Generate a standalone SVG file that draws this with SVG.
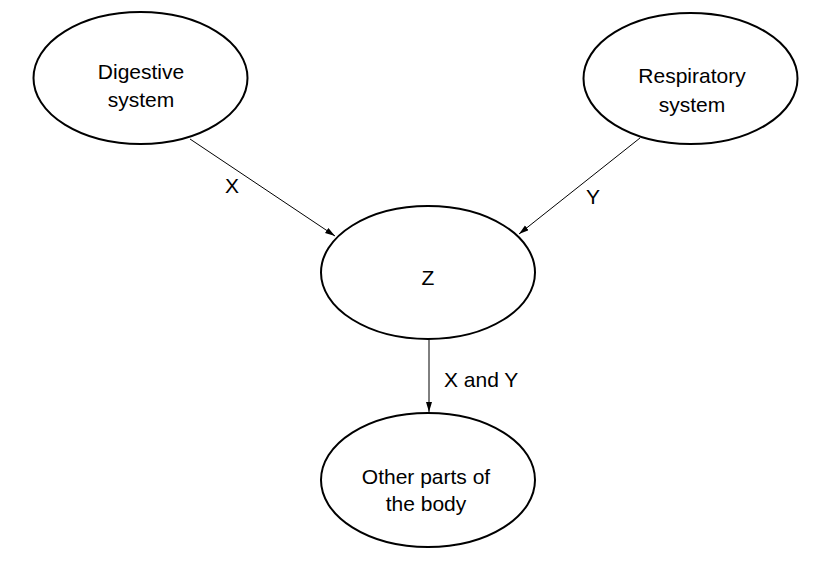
<svg xmlns="http://www.w3.org/2000/svg" width="817" height="576" viewBox="0 0 817 576">
  <style>
    .node ellipse { fill: #ffffff; stroke: #000000; stroke-width: 2; }
    .node text, .label { font-family: "Liberation Sans", Arial, sans-serif; font-size: 21px; fill: #000000; text-anchor: middle; }
    .edge { stroke: #000000; stroke-width: 1; fill: none; marker-end: url(#arrow); }
  </style>
  <defs>
    <marker id="arrow" markerUnits="userSpaceOnUse" markerWidth="11" markerHeight="7" refX="10" refY="3" orient="auto">
      <path d="M0,0 L10,3 L0,6 z" fill="#000000"/>
    </marker>
  </defs>
  <rect width="817" height="576" fill="#ffffff"/>
  <g id="connectors">
    <line class="edge" x1="190" y1="139" x2="335" y2="236"/>
    <line class="edge" x1="640" y1="138" x2="519" y2="234"/>
    <line class="edge" x1="429" y1="339" x2="429" y2="412"/>
    <text class="label" x="232" y="193">X</text>
    <text class="label" x="593" y="204">Y</text>
    <text class="label" x="444" y="387" style="text-anchor:start">X and Y</text>
  </g>
  <g id="digestive" class="node">
    <ellipse cx="140.5" cy="78" rx="107" ry="66"/>
    <text x="141" y="79">Digestive</text>
    <text x="141" y="107">system</text>
  </g>
  <g id="respiratory" class="node">
    <ellipse cx="690.5" cy="78.5" rx="107" ry="65.5"/>
    <text x="692" y="83">Respiratory</text>
    <text x="692" y="112">system</text>
  </g>
  <g id="z" class="node">
    <ellipse cx="428" cy="272.5" rx="107" ry="66.5"/>
    <text x="428" y="285">Z</text>
  </g>
  <g id="other" class="node">
    <ellipse cx="428" cy="480" rx="107" ry="67"/>
    <text x="426" y="484">Other parts of</text>
    <text x="426" y="511">the body</text>
  </g>
</svg>
